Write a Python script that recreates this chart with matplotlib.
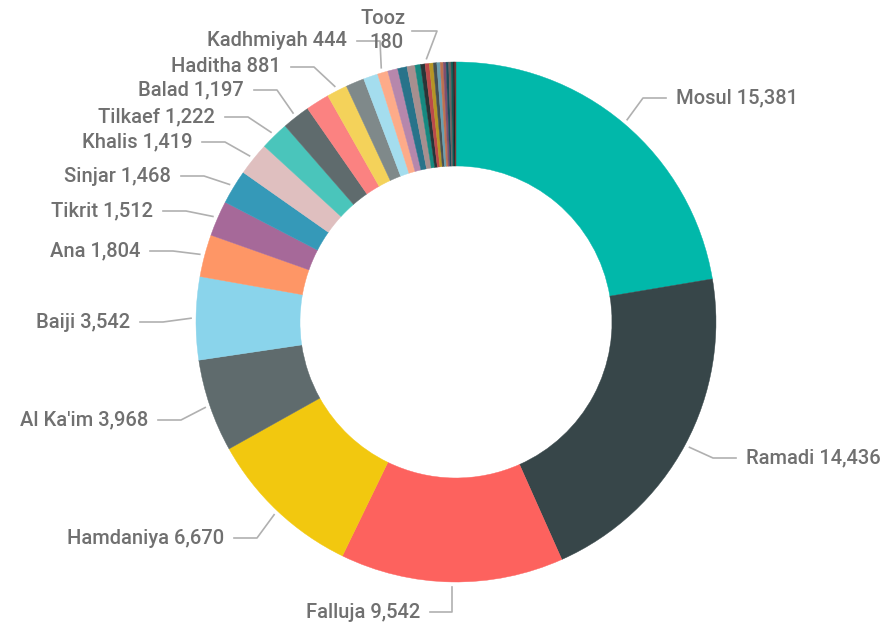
import numpy as np
import matplotlib
matplotlib.use("Agg")
import matplotlib.pyplot as plt

# ---- data ----
names = ["Mosul", "Ramadi", "Falluja", "Hamdaniya", "Al Ka'im", "Baiji", "Ana", "Tikrit",
         "Sinjar", "Khalis", "Tilkaef", "Balad", "", "Haditha", "", "", "Kadhmiyah",
         "", "", "", "", "", "Tooz", "", "", "", "", "", "", "", "", "", ""]
values = [15381, 14436, 9542, 6670, 3968, 3542, 1804, 1512,
          1468, 1419, 1222, 1197, 1010, 881, 790, 620, 444,
          430, 400, 340, 240, 190, 180, 170, 150, 140, 130, 120, 110, 100, 90, 70, 50]

colors = ["#01B8AA", "#374649", "#FD625E", "#F2C80F", "#5F6B6D", "#8AD4EB", "#FE9666", "#A66999",
          "#3599B8", "#DFBFBF", "#4AC5BB", "#5F6B6D", "#FB8281", "#F4D25A", "#7F898A", "#A4DDEE",
          "#FDAB89", "#B687AC", "#28738A", "#A78F8F", "#168980", "#293537", "#BB4A4A", "#B59525",
          "#475052", "#6A9FB0", "#BD7150", "#7B4F71", "#1B4D5C", "#706060", "#0F5C55", "#1C2325",
          "#7D3231"]

# label layout (pixel coords from top-left): text edge x, text y, side
layout = {
    "Mosul": (676, 98, "left"),
    "Ramadi": (746, 458, "left"),
    "Falluja": (420, 612, "right"),
    "Hamdaniya": (224, 538, "right"),
    "Al Ka'im": (148, 420, "right"),
    "Baiji": (130, 322, "right"),
    "Ana": (140, 251, "right"),
    "Tikrit": (153, 211, "right"),
    "Sinjar": (171, 176, "right"),
    "Khalis": (192, 142, "right"),
    "Tilkaef": (215, 117, "right"),
    "Balad": (244, 90, "right"),
    "Haditha": (281, 67, "right"),
    "Kadhmiyah": (347, 41, "right"),
}

W, H = 888, 624
fig = plt.figure(figsize=(W / 100, H / 100), dpi=100)
ax = fig.add_axes([0, 0, 1, 1])
cx, cy = 456, H - 322
R = 260
wedges, _ = ax.pie(values, colors=colors, startangle=90, counterclock=False,
                   radius=R, center=(cx, cy),
                   wedgeprops=dict(width=104, linewidth=0))
for w, c in zip(wedges, colors):
    w.set_edgecolor(c)
    w.set_linewidth(0.3)
ax.set_xlim(0, W)
ax.set_ylim(0, H)
ax.set_aspect("equal")
ax.axis("off")

txt_color = "#707070"
line_color = "#b0b0b0"
fs = 14.5
font = "Roboto"
fw = "medium"

def fmt(v):
    return f"{v:,}"

for name, v, w in zip(names, values, wedges):
    if not name:
        continue
    ang = np.deg2rad((w.theta1 + w.theta2) / 2)
    px, py = cx + (R + 5) * np.cos(ang), cy + (R + 5) * np.sin(ang)
    if name == "Tooz":
        ty = H - 31
        ax.plot([412, 437, px], [ty, ty, py], color=line_color, lw=1.2)
        ax.text(383, H - 19, name, ha="center", va="center",
                fontsize=fs, color=txt_color, family=font, weight=fw)
        ax.text(386, H - 42, fmt(v), ha="center", va="center",
                fontsize=fs, color=txt_color, family=font, weight=fw)
        continue
    tx, ty, side = layout[name]
    ty = H - ty
    if side == "left":
        ex, lx = tx - 33, tx - 10
    else:
        ex, lx = tx + 33, tx + 10
    if name == "Falluja":
        ex = px
    ax.plot([px, ex, lx], [py, ty, ty], color=line_color, lw=1.2)
    ax.text(tx, ty, f"{name} {fmt(v)}", ha=side, va="center", fontsize=fs,
            color=txt_color, family=font, weight=fw)

fig.savefig("out.png", dpi=100, facecolor="white")
